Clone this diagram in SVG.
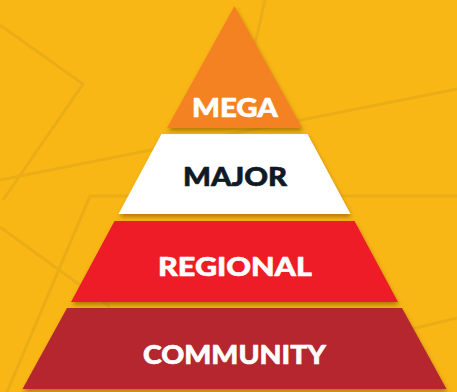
<svg xmlns="http://www.w3.org/2000/svg" width="457" height="392" viewBox="0 0 457 392">
  <style>
    .bg-line { fill: none; stroke: #EBAD17; stroke-width: 3; stroke-linejoin: miter; }
    .tier { filter: url(#tierShadow); }
    .label { font-family: "Lato", "DejaVu Sans", "Liberation Sans", sans-serif; font-weight: 900; font-size: 26px; text-anchor: middle; stroke-width: 0.6; stroke-linejoin: round; }
    .light { fill: #FFFFFF; stroke: #FFFFFF; }
    .dark { fill: #0E1A26; stroke: #0E1A26; }
  </style>
  <defs>
    <filter id="tierShadow" x="-10%" y="-10%" width="120%" height="130%">
      <feDropShadow dx="1" dy="3" stdDeviation="2.2" flood-color="#7A4A00" flood-opacity="0.55"/>
    </filter>
  </defs>

  <!-- background -->
  <rect x="0" y="0" width="457" height="392" fill="#F9B715"/>

  <!-- faint background line work -->
  <g id="background-lines">
    <polyline class="bg-line" points="0,25 83,84 3,200"/>
    <line class="bg-line" x1="0" y1="180" x2="457" y2="89"/>
    <line class="bg-line" x1="265" y1="0" x2="240" y2="110"/>
    <polyline class="bg-line" points="457,196 90,196 7,392"/>
    <line class="bg-line" x1="0" y1="227" x2="110" y2="307"/>
    <line class="bg-line" x1="380" y1="337" x2="457" y2="318"/>
  </g>

  <!-- pyramid tiers -->
  <g id="tier-community">
    <polygon class="tier" points="67,308 402,308 446.5,389 22.5,389" fill="#B5262F"/>
    <text class="label light" x="234.5" y="364" textLength="183" lengthAdjust="spacingAndGlyphs">COMMUNITY</text>
  </g>
  <g id="tier-regional">
    <polygon class="tier" points="114.5,221 354.5,221 398,302 71,302" fill="#EE1D25"/>
    <text class="label light" x="235" y="276" textLength="154" lengthAdjust="spacingAndGlyphs">REGIONAL</text>
  </g>
  <g id="tier-major">
    <polygon class="tier" points="161.5,134 307.5,134 350.5,214 118.5,214" fill="#FFFFFF"/>
    <text class="label dark" x="235" y="186" textLength="104" lengthAdjust="spacingAndGlyphs">MAJOR</text>
  </g>
  <g id="tier-mega">
    <polygon class="tier" points="234.5,6 302,128 167,128" fill="#F58220"/>
    <text class="label light" x="235" y="117" textLength="86" lengthAdjust="spacingAndGlyphs">MEGA</text>
  </g>
</svg>
